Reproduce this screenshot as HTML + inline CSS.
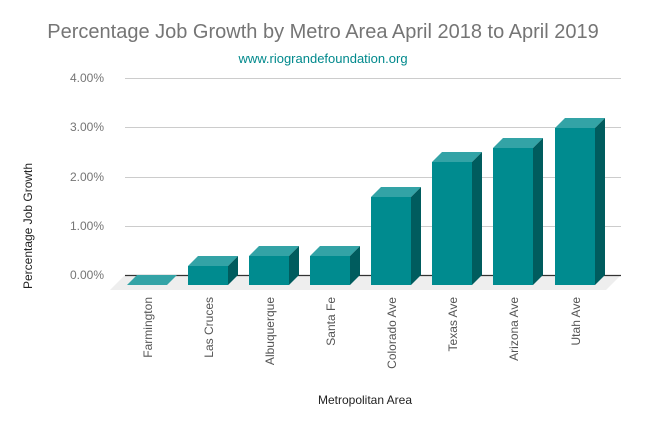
<!DOCTYPE html>
<html><head><style>body{margin:0;background:#fff}svg{display:block}</style></head><body>
<svg width="646" height="429" xmlns="http://www.w3.org/2000/svg" font-family="Liberation Sans, sans-serif">
<text x="323" y="38" text-anchor="middle" font-size="20" fill="#757575">Percentage Job Growth by Metro Area April 2018 to April 2019</text>
<text x="323" y="63" text-anchor="middle" font-size="13" fill="#00898c">www.riograndefoundation.org</text>
<g stroke="#cccccc" stroke-width="1">
<line x1="125" y1="78.5" x2="621" y2="78.5"/><line x1="125" y1="127.5" x2="621" y2="127.5"/>
<line x1="125" y1="177.5" x2="621" y2="177.5"/><line x1="125" y1="226.5" x2="621" y2="226.5"/>
</g>
<g font-size="12" fill="#757575" text-anchor="end">
<text x="104" y="82">4.00%</text><text x="104" y="131">3.00%</text><text x="104" y="181">2.00%</text><text x="104" y="230">1.00%</text><text x="104" y="279">0.00%</text>
</g>
<polygon points="125,275 621,275 606,290 110,290" fill="#eeeeee"/>
<line x1="125" y1="275.5" x2="621" y2="275.5" stroke="#333" stroke-width="1.2"/>
<polygon points="137,275 177,275 167,285 127,285" fill="#33a3a6"/>
<g>
<!-- bars: x, fronttop -->
<g id="b">
</g>
</g>
<g>
<polygon points="188,266 198,256 238,256 228,266" fill="#33a3a6"/><rect x="188" y="266" width="40" height="19" fill="#008b8f"/><polygon points="228,266 238,256 238,275 228,285" fill="#005c5e"/>
<polygon points="249,256 259,246 299,246 289,256" fill="#33a3a6"/><rect x="249" y="256" width="40" height="29" fill="#008b8f"/><polygon points="289,256 299,246 299,275 289,285" fill="#005c5e"/>
<polygon points="310,256 320,246 360,246 350,256" fill="#33a3a6"/><rect x="310" y="256" width="40" height="29" fill="#008b8f"/><polygon points="350,256 360,246 360,275 350,285" fill="#005c5e"/>
<polygon points="371,197 381,187 421,187 411,197" fill="#33a3a6"/><rect x="371" y="197" width="40" height="88" fill="#008b8f"/><polygon points="411,197 421,187 421,275 411,285" fill="#005c5e"/>
<polygon points="432,162 442,152 482,152 472,162" fill="#33a3a6"/><rect x="432" y="162" width="40" height="123" fill="#008b8f"/><polygon points="472,162 482,152 482,275 472,285" fill="#005c5e"/>
<polygon points="493,148 503,138 543,138 533,148" fill="#33a3a6"/><rect x="493" y="148" width="40" height="137" fill="#008b8f"/><polygon points="533,148 543,138 543,275 533,285" fill="#005c5e"/>
<polygon points="555,128 565,118 605,118 595,128" fill="#33a3a6"/><rect x="555" y="128" width="40" height="157" fill="#008b8f"/><polygon points="595,128 605,118 605,275 595,285" fill="#005c5e"/>
</g>
<g font-size="12" fill="#555" text-anchor="end">
<text transform="translate(152,297) rotate(-90)">Farmington</text>
<text transform="translate(213,297) rotate(-90)">Las Cruces</text>
<text transform="translate(274,297) rotate(-90)">Albuquerque</text>
<text transform="translate(335,297) rotate(-90)">Santa Fe</text>
<text transform="translate(396,297) rotate(-90)">Colorado Ave</text>
<text transform="translate(457,297) rotate(-90)">Texas Ave</text>
<text transform="translate(518,297) rotate(-90)">Arizona Ave</text>
<text transform="translate(580,297) rotate(-90)">Utah Ave</text>
</g>
<text x="365" y="404" text-anchor="middle" font-size="12" fill="#222">Metropolitan Area</text>
<text transform="translate(32,226) rotate(-90)" text-anchor="middle" font-size="12" fill="#222">Percentage Job Growth</text>
</svg>
</body></html>
